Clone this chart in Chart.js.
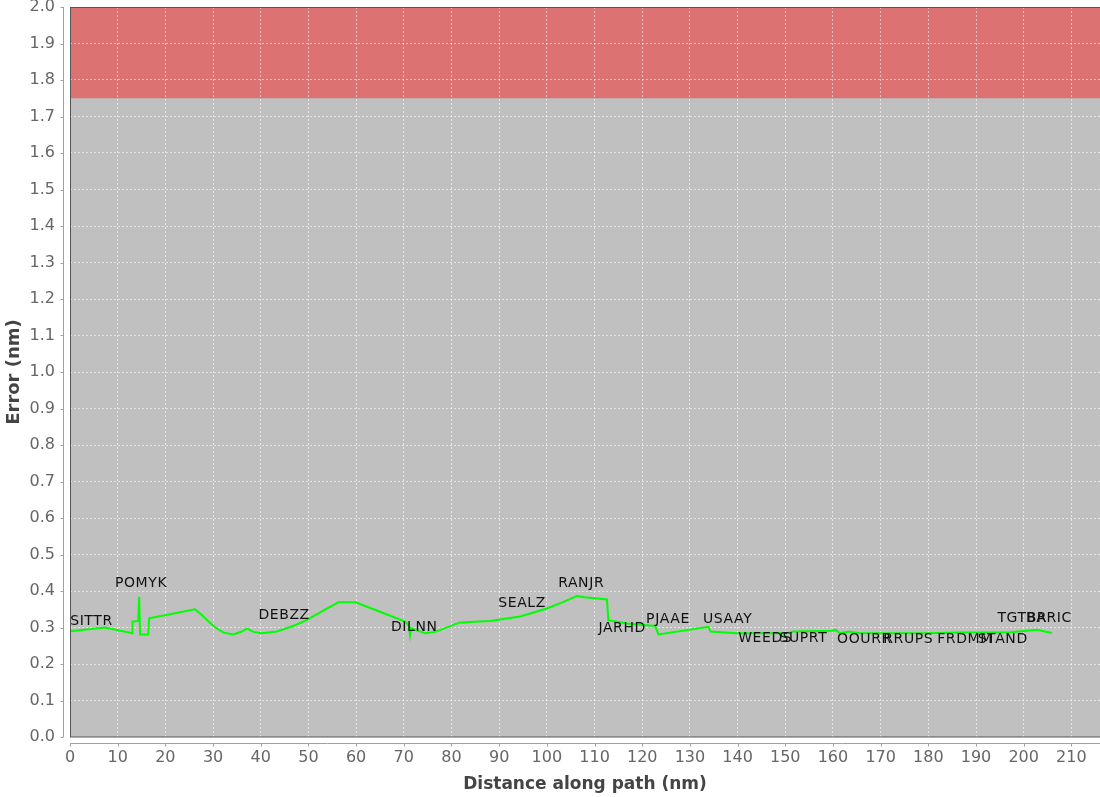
<!DOCTYPE html>
<html><head><meta charset="utf-8">
<script src="https://cdn.jsdelivr.net/npm/chart.js@4.4.1/dist/chart.umd.min.js"></script>
<style>html,body{margin:0;padding:0;background:#fff}</style>
</head><body>
<canvas id="c" width="1100" height="797"></canvas>
<script>
// ---- data ----
const distance = [0, 7.3, 13.1, 13.1, 14.3, 14.5, 14.7, 16.4, 16.6, 26.2,
  27.5, 29.0, 30.5, 32.2, 34.3, 36.0, 37.1, 38.5, 40.2, 43.4, 46.8,
  49.6, 53.1, 56.3, 59.9, 65.0, 70.3, 71.0, 71.3, 71.5, 74.5,
  76.6, 81.8, 88.1, 94.4, 100.0, 103.5, 106.3, 107.9, 112.6, 112.9,
  116.8, 122.7, 123.4, 133.9, 134.3, 139.8, 150.3, 151.7, 159.8, 160.5,
  161.5, 163.3, 165.7, 172.7, 179.7, 186.7, 197.2, 202.8, 205.9];
const errorNm = [0.290, 0.300, 0.284, 0.316, 0.318, 0.384, 0.281, 0.281, 0.325, 0.350,
  0.336, 0.317, 0.300, 0.286, 0.281, 0.289, 0.297, 0.288, 0.284, 0.289, 0.304,
  0.320, 0.346, 0.369, 0.369, 0.343, 0.316, 0.306, 0.279, 0.298, 0.284,
  0.288, 0.314, 0.318, 0.330, 0.352, 0.370, 0.386, 0.383, 0.377, 0.320,
  0.311, 0.304, 0.281, 0.302, 0.289, 0.284, 0.284, 0.289, 0.291, 0.294,
  0.284, 0.289, 0.284, 0.284, 0.284, 0.286, 0.287, 0.294, 0.285];
const waypointNames = ['SITTR','POMYK','DEBZZ','DILNN','SEALZ','RANJR','JARHD','PJAAE','USAAY',
  'WEEDS','SUPRT','OOURR','RRUPS','FRDMM','STAND','TGTBR','BARIC'];
const waypointDist = [4.5, 14.9, 44.9, 72.2, 94.8, 107.2, 115.8, 125.4, 137.9,
  145.8, 153.8, 166.6, 175.8, 187.7, 195.6, 199.7, 205.3];
const waypointLabelY = [0.316, 0.422, 0.332, 0.301, 0.367, 0.422, 0.299, 0.323, 0.321,
  0.271, 0.271, 0.268, 0.268, 0.268, 0.268, 0.326, 0.326];
const limitBand = [1.75, 2.0];
const xTicks = [0,10,20,30,40,50,60,70,80,90,100,110,120,130,140,150,160,170,180,190,200,210];
const yTicks = [0.0,0.1,0.2,0.3,0.4,0.5,0.6,0.7,0.8,0.9,1.0,1.1,1.2,1.3,1.4,1.5,1.6,1.7,1.8,1.9,2.0];
const xRange = [0, 216];
const yRange = [0, 2.0];

const FONT = "'DejaVu Sans', sans-serif";

const decor = {
  id: 'decor',
  beforeDraw(chart) {
    const {ctx, chartArea: a, scales: {x, y}} = chart;
    ctx.save();
    ctx.fillStyle = '#c0c0c0';
    ctx.fillRect(a.left, a.top, a.right - a.left, a.bottom - a.top);
    const y1 = y.getPixelForValue(limitBand[0]), y2 = y.getPixelForValue(limitBand[1]);
    ctx.fillStyle = '#dc7272';
    ctx.fillRect(a.left, y2, a.right - a.left, y1 - y2);
    ctx.restore();
  },
  afterDraw(chart) {
    const {ctx, chartArea: a, scales: {x, y}} = chart;
    ctx.save();
    // plot outline
    ctx.strokeStyle = '#555';
    ctx.lineWidth = 1;
    ctx.strokeRect(a.left + 0.5, a.top + 0.5, a.right - a.left, a.bottom - a.top - 0.5);
    // offset axis lines
    ctx.strokeStyle = '#a0a0a0';
    const ax = a.left - 6.5;
    ctx.beginPath();
    ctx.moveTo(ax, a.top); ctx.lineTo(ax, a.bottom);
    yTicks.forEach(v => { const p = Math.round(y.getPixelForValue(v)) + 0.5; ctx.moveTo(ax, p); ctx.lineTo(ax - 3, p); });
    const ay = a.bottom + 6.5;
    ctx.moveTo(a.left, ay); ctx.lineTo(a.right, ay);
    xTicks.forEach(v => { const p = Math.round(x.getPixelForValue(v)) + 0.5; ctx.moveTo(p, ay); ctx.lineTo(p, ay + 3); });
    ctx.stroke();
    // waypoint labels
    ctx.fillStyle = '#111';
    ctx.font = "14px " + FONT;
    if ('letterSpacing' in ctx) ctx.letterSpacing = '0.6px';
    ctx.textAlign = 'center';
    ctx.textBaseline = 'middle';
    waypointNames.forEach((n, i) => {
      ctx.fillText(n, x.getPixelForValue(waypointDist[i]), y.getPixelForValue(waypointLabelY[i]));
    });
    ctx.restore();
  }
};

new Chart(document.getElementById('c'), {
  type: 'line',
  data: {
    datasets: [{
      data: distance.map((d, i) => ({x: d, y: errorNm[i]})),
      borderColor: '#00ff00',
      borderWidth: 2,
      pointRadius: 0,
      tension: 0,
      fill: false
    }]
  },
  options: {
    responsive: false,
    animation: false,
    layout: {padding: {top: 7, right: 0, left: 0, bottom: 0}},
    plugins: {legend: {display: false}, tooltip: {enabled: false}},
    scales: {
      x: {
        type: 'linear', min: xRange[0], max: xRange[1],
        afterBuildTicks: s => { s.ticks = xTicks.map(v => ({value: v})); },
        afterFit: s => { s.height = 60; s.paddingLeft = 0; s.paddingRight = 0; },
        grid: {color: 'rgba(255,255,255,0.55)', drawTicks: false, lineWidth: 1},
        border: {display: false, dash: [2, 2]},
        ticks: {color: '#666', font: {family: FONT, size: 16}, padding: 11, maxRotation: 0, autoSkip: false,
          callback: v => String(v)},
        title: {display: true, text: 'Distance along path (nm)', color: '#444',
          font: {family: FONT, size: 17, weight: 'bold'}, padding: {top: 0, bottom: 2}}
      },
      y: {
        type: 'linear', min: yRange[0], max: yRange[1],
        afterBuildTicks: s => { s.ticks = yTicks.map(v => ({value: v})); },
        afterFit: s => { s.width = 70; s.paddingTop = 0; s.paddingBottom = 0; },
        grid: {color: 'rgba(255,255,255,0.55)', drawTicks: false, lineWidth: 1},
        border: {display: false, dash: [2, 2]},
        ticks: {color: '#666', font: {family: FONT, size: 16}, padding: 15, autoSkip: false,
          callback: v => Number(v).toFixed(1)},
        title: {display: true, text: 'Error (nm)', color: '#444',
          font: {family: FONT, size: 18, weight: 'bold'}, padding: {top: 4, bottom: 0}}
      }
    }
  },
  plugins: [decor]
});
</script>
</body></html>
